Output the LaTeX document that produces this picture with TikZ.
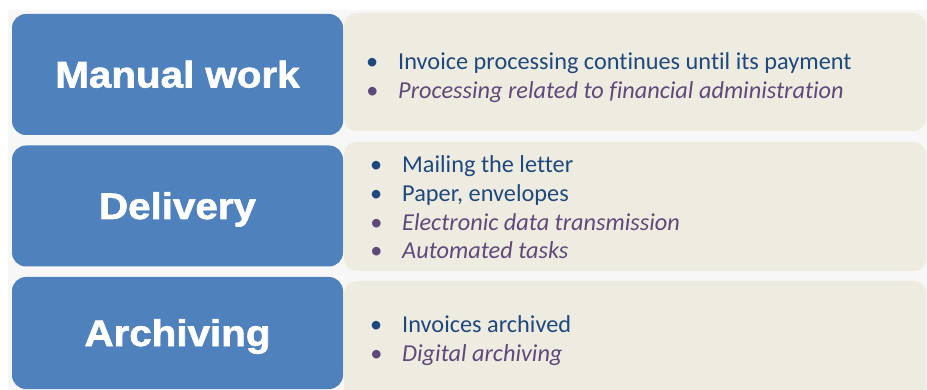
\documentclass[tikz,border=0pt]{standalone}
\usepackage{fontspec}
\newfontfamily\headfont{Liberation Sans}[BoldFeatures={FakeBold=1.6}]
\newfontfamily\bodyfont{Carlito}[Ligatures=NoCommon]
\definecolor{boxblue}{HTML}{4F81BD}
\definecolor{boxtan}{HTML}{EEECE1}
\definecolor{txtblue}{HTML}{1F497D}
\definecolor{txtpurple}{HTML}{5F497A}
\definecolor{backgray}{HTML}{F7F7F7}
\tikzset{
	head/.style={fill=boxblue, rounded corners=14pt, minimum width=331pt, inner sep=0pt, text height=26pt, text depth=0pt, text=white, font=\headfont\bfseries\fontsize{37}{37}\selectfont},
	panel/.style={fill=boxtan, rounded corners=12pt, minimum width=582pt, inner sep=0pt},
	item/.style={anchor=base west, inner sep=0pt, text=txtblue, font=\bodyfont\fontsize{24.3}{29}\selectfont},
	itemit/.style={item, text=txtpurple, font=\bodyfont\itshape\fontsize{24.3}{29}\selectfont}
}
\newcommand\bul[1]{\makebox[0pt][r]{\textbullet\hspace{20pt}}#1}

\begin{document}
\begin{tikzpicture}[x=1pt, y=-1pt]
			%%%%% START %%%%%
			\useasboundingbox (0, 0) rectangle (927, 390);
			\clip (0, 0) rectangle (927, 390);
			\fill[backgray] (8, 10) rectangle (927, 390);
			
			\node[panel, minimum height=118pt] (manualpanel) at (635, 72) {};
			\node[panel, minimum height=129pt] (deliverypanel) at (635, 206.5) {};
			\node[panel, minimum height=118pt] (archivepanel) at (635, 340) {};
			
			\node[head, minimum height=121pt] (manual) at (177.5, 74.5) {\scalebox{1.09}[1]{Manual work}};
			\node[head, minimum height=121pt] (delivery) at (177.5, 206) {\scalebox{1.09}[1]{Delivery}};
			\node[head, minimum height=112pt] (archiving) at (177.5, 333) {\scalebox{1.09}[1]{Archiving}};
			
			\node[item] (manual1) at (398, 70) {\bul{Invoice processing continues until its payment}};
			\node[itemit] (manual2) at (398, 99) {\bul{Processing related to financial administration}};
			
			\node[item] (delivery1) at (402, 173) {\bul{Mailing the letter}};
			\node[item] (delivery2) at (402, 202) {\bul{Paper, envelopes}};
			\node[itemit] (delivery3) at (402, 231) {\bul{Electronic data transmission}};
			\node[itemit] (delivery4) at (402, 259) {\bul{Automated tasks}};
			
			\node[item] (archiving1) at (402, 333) {\bul{Invoices archived}};
			\node[itemit] (archiving2) at (402, 361) {\bul{Digital archiving}};
			%%%%% END %%%%%
\end{tikzpicture}
\end{document}
